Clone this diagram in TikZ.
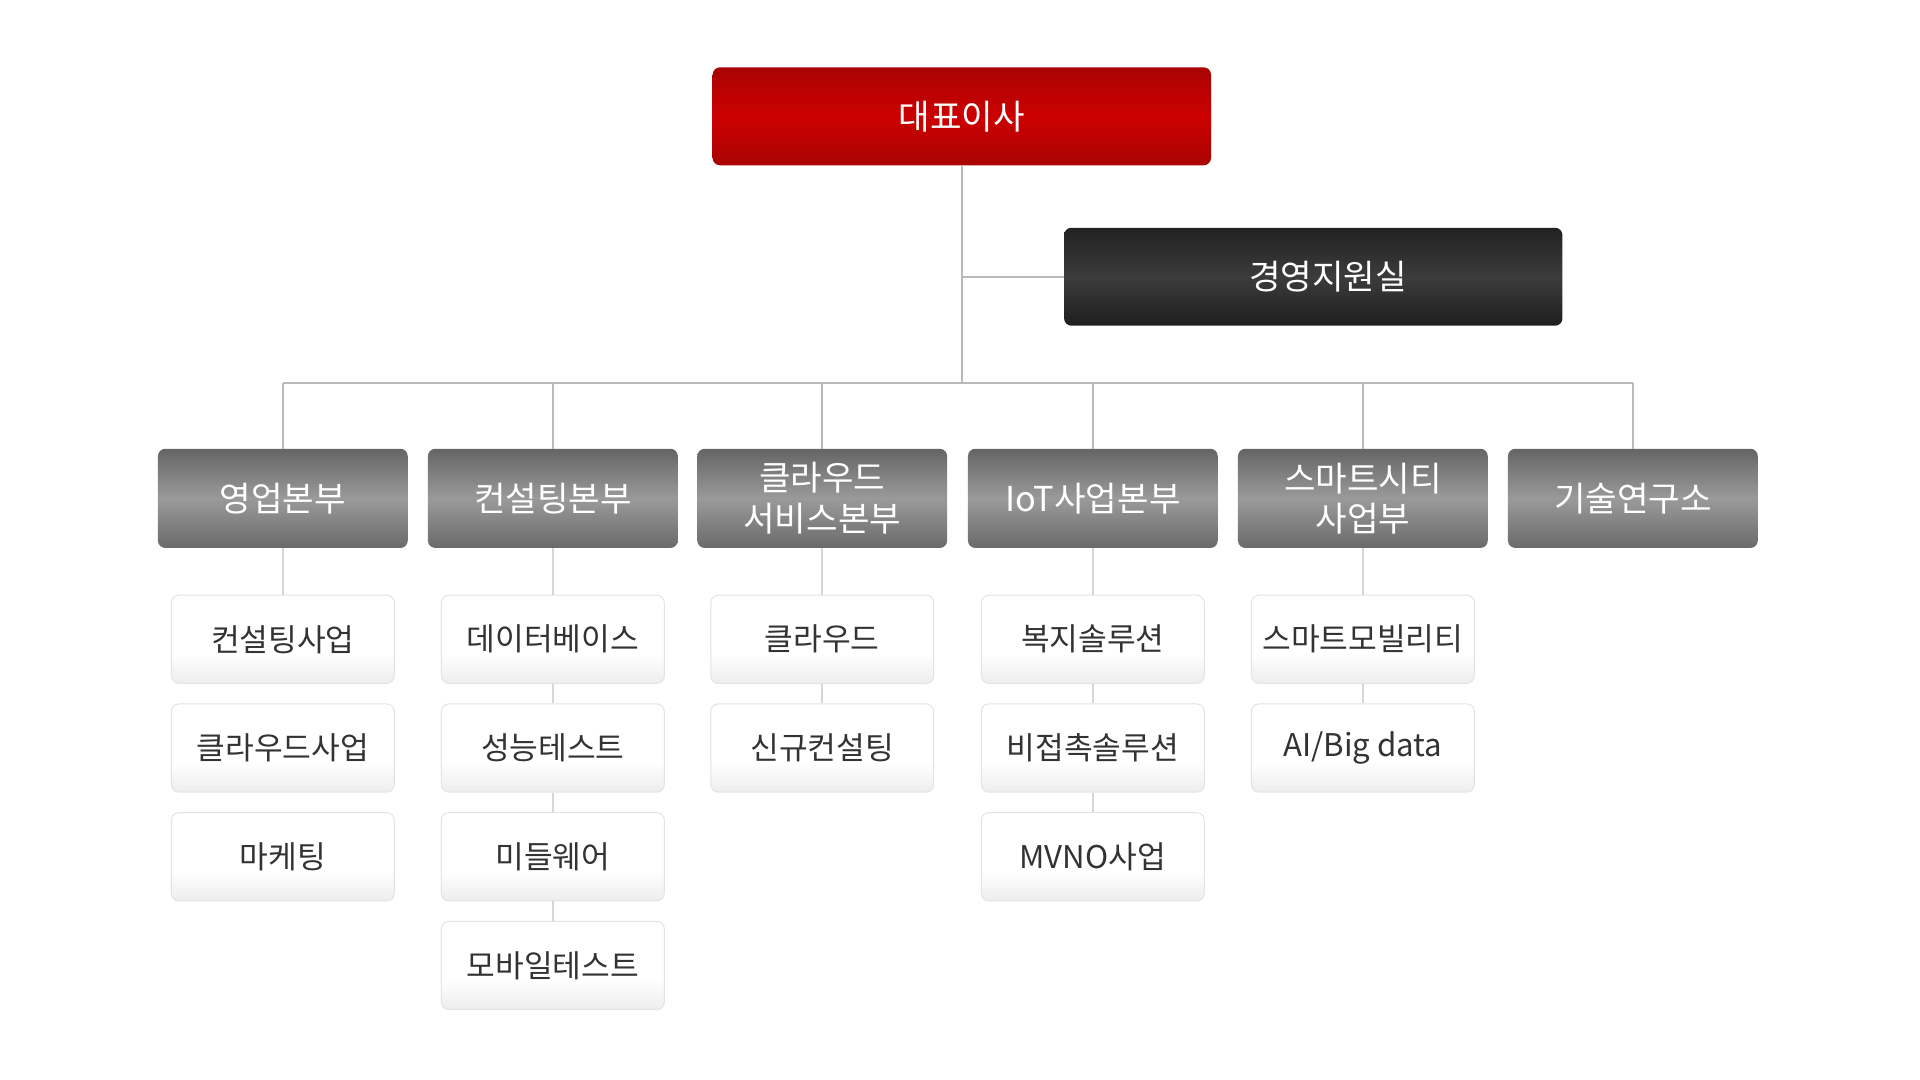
\documentclass[tikz,border=0pt]{standalone}
\usepackage{fontspec}
\setmainfont{Noto Sans CJK KR}
\usetikzlibrary{positioning}

\definecolor{rededge}{HTML}{A90303}
\definecolor{redmid}{HTML}{CC0000}
\definecolor{darkedge}{HTML}{1E1E1E}
\definecolor{darkmid}{HTML}{3C3C3C}
\definecolor{grayedge}{HTML}{6A6A6A}
\definecolor{graymid}{HTML}{9A9A9A}
\definecolor{subbot}{HTML}{EDEDED}
\definecolor{subline}{HTML}{E3E3E3}
\definecolor{mainwire}{HTML}{B7BABD}
\definecolor{subwire}{HTML}{D6D6D6}
\definecolor{subtext}{HTML}{333333}

\pgfdeclareverticalshading{subshade}{100bp}{color(0bp)=(subbot); color(25bp)=(subbot); color(42bp)=(white); color(100bp)=(white)}

\begin{document}
\begin{tikzpicture}[x=1pt,y=-1pt,
  ceobox/.style={rounded corners=6pt, minimum width=407pt, minimum height=80pt,
    top color=rededge, bottom color=rededge, middle color=redmid,
    text=white, font=\fontsize{28}{33}\selectfont},
  staffbox/.style={rounded corners=6pt, minimum width=407pt, minimum height=80pt,
    top color=darkedge!90!darkmid, bottom color=darkedge, middle color=darkmid,
    text=white, font=\fontsize{28}{33}\selectfont},
  divbox/.style={rounded corners=6pt, minimum width=204pt, minimum height=81pt,
    top color=grayedge!95!black, bottom color=grayedge, middle color=graymid,
    text=white, align=center, inner sep=0pt, font=\fontsize{28}{33}\selectfont},
  subbox/.style={rounded corners=6pt, minimum width=182pt, minimum height=72pt,
    draw=subline, line width=0.8pt, shading=subshade,
    text=subtext, font=\fontsize{25.5}{30}\selectfont},
  mainline/.style={draw=mainwire, line width=1.6pt},
  subline/.style={draw=subwire, line width=1.4pt}]
  \useasboundingbox (0,0) rectangle (1568,882);

  % top
  \node[ceobox] (ceo) at (785.5,95) {대표이사};
  \node[staffbox] (mgmt) at (1072.5,226) {\hspace*{24pt}경영지원실};
  \coordinate (bus) at (785.5,313);

  % divisions
  \node[divbox] (d1) at (231,407) {영업본부};
  \node[divbox] (d2) at (451.5,407) {컨설팅본부};
  \node[divbox] (d3) at (671.5,407) {클라우드\\서비스본부};
  \node[divbox] (d4) at (892.5,407) {IoT사업본부};
  \node[divbox] (d5) at (1113,407) {스마트시티\\사업부};
  \node[divbox] (d6) at (1333.5,407) {기술연구소};

  % teams
  \node[subbox, below=38pt of d1] (s11) {컨설팅사업};
  \node[subbox, below=16pt of s11] (s12) {클라우드사업};
  \node[subbox, below=16pt of s12] (s13) {마케팅};

  \node[subbox, below=38pt of d2] (s21) {데이터베이스};
  \node[subbox, below=16pt of s21] (s22) {성능테스트};
  \node[subbox, below=16pt of s22] (s23) {미들웨어};
  \node[subbox, below=16pt of s23] (s24) {모바일테스트};

  \node[subbox, below=38pt of d3] (s31) {클라우드};
  \node[subbox, below=16pt of s31] (s32) {신규컨설팅};

  \node[subbox, below=38pt of d4] (s41) {복지솔루션};
  \node[subbox, below=16pt of s41] (s42) {비접촉솔루션};
  \node[subbox, below=16pt of s42] (s43) {MVNO사업};

  \node[subbox, below=38pt of d5] (s51) {스마트모빌리티};
  \node[subbox, below=16pt of s51] (s52) {AI/Big data};

  % wiring
  \path[mainline] (ceo.south) -- (bus);
  \path[mainline] (mgmt.west) -- (mgmt.west -| ceo.south);
  \path[mainline] (d1.north |- bus) -- (d6.north |- bus);
  \foreach \d in {d1,d2,d3,d4,d5,d6}
    \path[mainline] (\d.north) -- (\d.north |- bus);

  \path[subline] (d1.south) -- (s11.north);
  \path[subline] (d2.south) -- (s21.north) (s21.south) -- (s22.north)
    (s22.south) -- (s23.north) (s23.south) -- (s24.north);
  \path[subline] (d3.south) -- (s31.north) (s31.south) -- (s32.north);
  \path[subline] (d4.south) -- (s41.north) (s41.south) -- (s42.north)
    (s42.south) -- (s43.north);
  \path[subline] (d5.south) -- (s51.north) (s51.south) -- (s52.north);
\end{tikzpicture}
\end{document}
